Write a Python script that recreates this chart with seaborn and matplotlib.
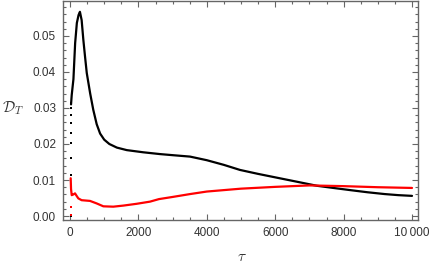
import matplotlib
matplotlib.use('Agg')
import matplotlib.pyplot as plt
import numpy as np
import pandas as pd
import seaborn as sns
from matplotlib.ticker import MultipleLocator, FixedLocator, FixedFormatter

# Data
tau_black = [30, 50, 100, 150, 200, 250, 290, 340, 390, 440, 490, 590, 680, 780, 880,
             1000, 1150, 1370, 1660, 2140, 2630, 3000, 3510, 4000, 4500, 4970, 5500, 6230,
             6700, 7220, 7700, 8190, 8700, 9200, 9600, 10000]
d_black = [0.031, 0.0336, 0.038, 0.048, 0.0536, 0.0558, 0.0567, 0.0544, 0.0489, 0.0442,
           0.0397, 0.034, 0.0295, 0.0255, 0.0229, 0.0212, 0.0200, 0.019, 0.0183, 0.0177,
           0.0172, 0.0169, 0.0165, 0.0155, 0.0142, 0.0128, 0.0117, 0.0103, 0.0094, 0.0084,
           0.0078, 0.0072, 0.0066, 0.0061, 0.0058, 0.0056]

tau_red = [20, 30, 50, 100, 146, 200, 243, 340, 585, 780, 975, 1265, 1560, 1950, 2340,
           2600, 3000, 3510, 4000, 5000, 6000, 7000, 8000, 9000, 10000]
d_red = [0.0105, 0.0075, 0.0058, 0.006, 0.0063, 0.0055, 0.0049, 0.0044, 0.0042, 0.0035,
         0.0027, 0.0026, 0.0029, 0.0034, 0.004, 0.0047, 0.0053, 0.0061, 0.0068, 0.0076,
         0.0081, 0.0085, 0.0083, 0.008, 0.0078]

# early sparse points (dotted column near tau = 0)
tau_black_dots = [22] * 9
d_black_dots = [0.0, 0.0114, 0.0161, 0.0203, 0.023, 0.0258, 0.028, 0.030, 0.0314]
tau_red_dots = [22, 22]
d_red_dots = [0.0003, 0.0026]

x_ticks = [0, 2000, 4000, 6000, 8000, 10000]
x_labels = ['0', '2000', '4000', '6000', '8000', '10\u2009000']
y_ticks = [0.00, 0.01, 0.02, 0.03, 0.04, 0.05]
y_labels = ['0.00', '0.01', '0.02', '0.03', '0.04', '0.05']

sns.set_style('white')
plt.rcParams['font.family'] = ['Liberation Sans', 'DejaVu Sans']
plt.rcParams['mathtext.fontset'] = 'cm'

fig = plt.figure(figsize=(4.32, 2.66), dpi=100)
ax = fig.add_axes([63 / 432, 1 - 220 / 266, 355 / 432, 219 / 266])

sns.lineplot(x=tau_black, y=d_black, color='black', lw=1.6, ax=ax)
sns.lineplot(x=tau_red, y=d_red, color='#ff0000', lw=1.6, ax=ax)
sns.scatterplot(x=tau_black_dots, y=d_black_dots, color='black', s=3, marker='s',
                linewidth=0, ax=ax)
sns.scatterplot(x=tau_red_dots, y=d_red_dots, color='#ff0000', s=3, marker='s',
                linewidth=0, ax=ax)

ax.set_xlim(-205, 10175)
ax.set_ylim(-0.0011, 0.0597)

frame = '#666666'
for s in ax.spines.values():
    s.set_color(frame)
    s.set_linewidth(1.0)

ax.xaxis.set_major_locator(FixedLocator(x_ticks))
ax.xaxis.set_major_formatter(FixedFormatter(x_labels))
ax.xaxis.set_minor_locator(MultipleLocator(500))
ax.yaxis.set_major_locator(FixedLocator(y_ticks))
ax.yaxis.set_major_formatter(FixedFormatter(y_labels))
ax.yaxis.set_minor_locator(MultipleLocator(0.002))

ax.tick_params(which='both', direction='in', bottom=True, left=True, top=True,
               right=True, color=frame, labelsize=8.5, labelcolor='#333333', width=0.8)
ax.tick_params(which='major', length=4, pad=5)
ax.tick_params(which='minor', length=2)

ax.set_xlabel(r'$\tau$', fontsize=11, color='#333333')
ax.xaxis.set_label_coords(0.504, -0.135)
ax.set_ylabel(r'$\mathcal{D}_T$', fontsize=11, color='#333333', rotation=0,
              va='center', ha='center')
ax.yaxis.set_label_coords(-0.14, 0.51)

fig.savefig('out.png', dpi=100)
